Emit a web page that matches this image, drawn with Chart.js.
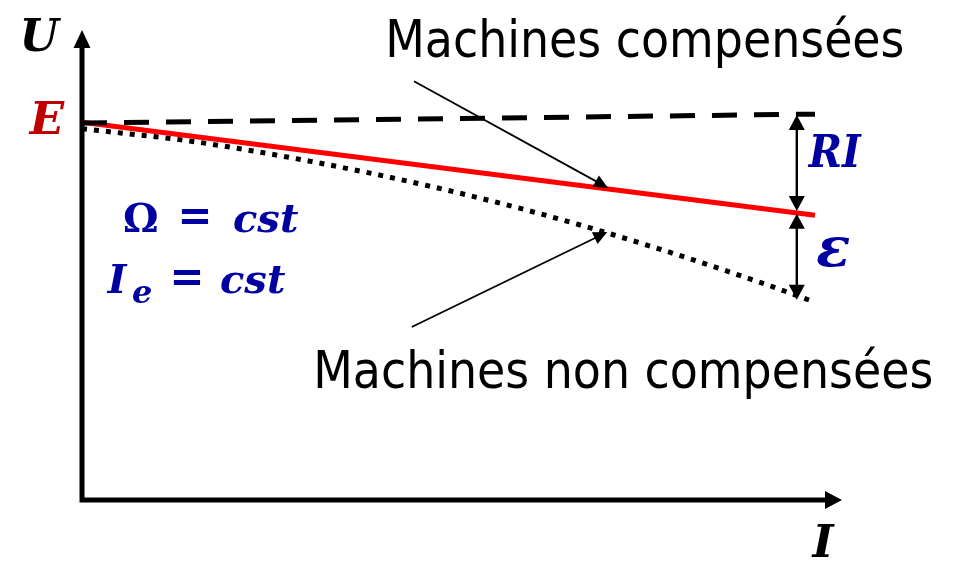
<!DOCTYPE html>
<html>
<head>
<meta charset="utf-8">
<script src="https://cdn.jsdelivr.net/npm/chart.js@4"></script>
<style>
  body { margin: 0; background: #fff; }
  canvas { display: block; }
</style>
</head>
<body>
<canvas id="chart-ui" width="958" height="562"></canvas>
<script>
// courant I (abscisse) et tension U (ordonnee), en unites arbitraires
const I_droite = [0, 9.67];
const U_vide = [8.02, 8.21];          // E (tiretes)
const U_comp = [8.04, 6.06];          // machines compensees
const I_noncomp = [0, 1.5, 3, 4.5, 6, 7.5, 9, 9.6];
const U_noncomp = [7.9, 7.62, 7.21, 6.71, 6.11, 5.40, 4.60, 4.25];

// fleches de cote RI et epsilon
const I_cote = 9.43;
const U_RI = [8.19, 6.15];
const U_eps = [6.09, 4.26];

// fleches des annotations [I debut, U debut, I fin, U fin]
const fleche_comp = [4.38, 8.91, 6.94, 6.64];
const fleche_noncomp = [4.35, 3.68, 6.93, 5.70];

// textes
const txt_comp = "Machines compensées";
const txt_noncomp = "Machines non compensées";
const pos_comp = [4.0, 9.43];
const pos_noncomp = [3.05, 2.38];

const BLEU = "#0000A0";
const ROUGE_E = "#C00000";

function pts(xs, ys) {
	return xs.map((x, i) => ({ x: x, y: ys[i] }));
}

function tete(ctx, x1, y1, x2, y2, len, demi) {
	const a = Math.atan2(y2 - y1, x2 - x1);
	ctx.beginPath();
	ctx.moveTo(x2, y2);
	ctx.lineTo(x2 - len * Math.cos(a) + demi * Math.sin(a), y2 - len * Math.sin(a) - demi * Math.cos(a));
	ctx.lineTo(x2 - len * Math.cos(a) - demi * Math.sin(a), y2 - len * Math.sin(a) + demi * Math.cos(a));
	ctx.closePath();
	ctx.fill();
}

function fleche(ctx, x1, y1, x2, y2, w, len, demi) {
	const a = Math.atan2(y2 - y1, x2 - x1);
	ctx.lineWidth = w;
	ctx.beginPath();
	ctx.moveTo(x1, y1);
	ctx.lineTo(x2 - (len - 1) * Math.cos(a), y2 - (len - 1) * Math.sin(a));
	ctx.stroke();
	tete(ctx, x1, y1, x2, y2, len, demi);
}

const diagramme = {
	id: "diagramme",
	afterDraw(chart) {
		const ctx = chart.ctx;
		const xs = chart.scales.x, ys = chart.scales.y;
		const a = chart.chartArea;
		const px = v => xs.getPixelForValue(v);
		const py = v => ys.getPixelForValue(v);
		ctx.save();
		ctx.fillStyle = "#000";
		ctx.strokeStyle = "#000";
		ctx.lineCap = "butt";

		// axes
		const x0 = a.left, y0 = a.bottom;
		ctx.lineWidth = 5;
		ctx.beginPath();
		ctx.moveTo(x0, y0 + 2.5);
		ctx.lineTo(x0, a.top + 16);
		ctx.moveTo(x0 - 2.5, y0);
		ctx.lineTo(a.right - 14, y0);
		ctx.stroke();
		tete(ctx, x0, y0, x0, a.top, 18, 8.5);
		tete(ctx, x0, y0, a.right + 2, y0, 17, 9);

		// cotes RI et epsilon
		const xc = px(I_cote);
		ctx.lineWidth = 2.4;
		[U_RI, U_eps].forEach(u => {
			const ya = py(u[0]), yb = py(u[1]);
			ctx.beginPath();
			ctx.moveTo(xc, ya + 12);
			ctx.lineTo(xc, yb - 12);
			ctx.stroke();
			tete(ctx, xc, yb, xc, ya, 15, 8);
			tete(ctx, xc, ya, xc, yb, 15, 8);
		});

		// fleches d'annotation
		[fleche_comp, fleche_noncomp].forEach(f => {
			fleche(ctx, px(f[0]), py(f[1]), px(f[2]), py(f[3]), 1.8, 14, 6.5);
		});

		// textes d'annotation
		ctx.textBaseline = "alphabetic";
		ctx.textAlign = "left";
		ctx.font = "51px 'DejaVu Sans Condensed', 'DejaVu Sans'";
		ctx.fillText(txt_comp, px(pos_comp[0]), py(pos_comp[1]), 521);
		ctx.fillText(txt_noncomp, px(pos_noncomp[0]), py(pos_noncomp[1]), 624);

		// etiquettes des axes
		ctx.textAlign = "center";
		ctx.textBaseline = "middle";
		ctx.font = "bold italic 45px 'DejaVu Serif'";
		ctx.fillText("U", x0 - 43, a.top + 9);
		ctx.fillText("I", a.right - 17, a.bottom + 45);
		ctx.fillStyle = ROUGE_E;
		ctx.fillText("E", x0 - 35, py(U_vide[0]) - 1);

		// grandeurs en bleu
		ctx.fillStyle = BLEU;
		ctx.fillText("RI", px(9.93), py(7.34), 52);
		ctx.font = "bold italic 56px 'DejaVu Serif'";
		ctx.fillText("ε", px(9.91), py(5.21) - 4);

		ctx.textAlign = "left";
		ctx.textBaseline = "alphabetic";
		const b1 = py(5.70), b2 = py(4.40);
		ctx.font = "bold 40px 'DejaVu Serif'";
		ctx.fillText("Ω", px(0.54), b1, 38);
		ctx.font = "bold 42px 'DejaVu Sans'";
		ctx.textAlign = "center";
		ctx.textBaseline = "middle";
		ctx.fillText("=", x0 + 113, b1 - 13, 35);
		ctx.fillText("=", x0 + 105, b2 - 13, 35);
		ctx.textAlign = "left";
		ctx.textBaseline = "alphabetic";
		ctx.font = "bold italic 40px 'DejaVu Serif'";
		ctx.fillText("cst", x0 + 151, b1, 70);
		ctx.fillText("cst", x0 + 138, b2, 73);
		ctx.fillText("I", px(0.34), b2);
		ctx.font = "bold italic 32px 'DejaVu Serif'";
		ctx.fillText("e", x0 + 50, b2 + 10);
		ctx.restore();
	}
};

const ctx = document.getElementById("chart-ui").getContext("2d");
const myChart = new Chart(ctx, {
	type: "line",
	data: {
		datasets: [
			{
				label: "E",
				data: pts(I_droite, U_vide),
				borderColor: "#000",
				borderWidth: 5,
				borderDash: [25, 17],
				pointRadius: 0,
			},
			{
				label: "Machines compensées",
				data: pts(I_droite, U_comp),
				borderColor: "#FF0000",
				borderWidth: 5,
				pointRadius: 0,
			},
			{
				label: "Machines non compensées",
				data: pts(I_noncomp, U_noncomp),
				borderColor: "#000",
				borderWidth: 5,
				borderDash: [5, 7],
				cubicInterpolationMode: "monotone",
				pointRadius: 0,
			}
		],
	},
	options: {
		responsive: false,
		animation: false,
		devicePixelRatio: 1,
		layout: { padding: { left: 82, right: 118, top: 30, bottom: 62 } },
		plugins: { legend: { display: false }, tooltip: { enabled: false } },
		scales: {
			x: { type: "linear", min: 0, max: 10, display: false },
			y: { min: 0, max: 10, display: false },
		},
	},
	plugins: [diagramme],
});
</script>
</body>
</html>
